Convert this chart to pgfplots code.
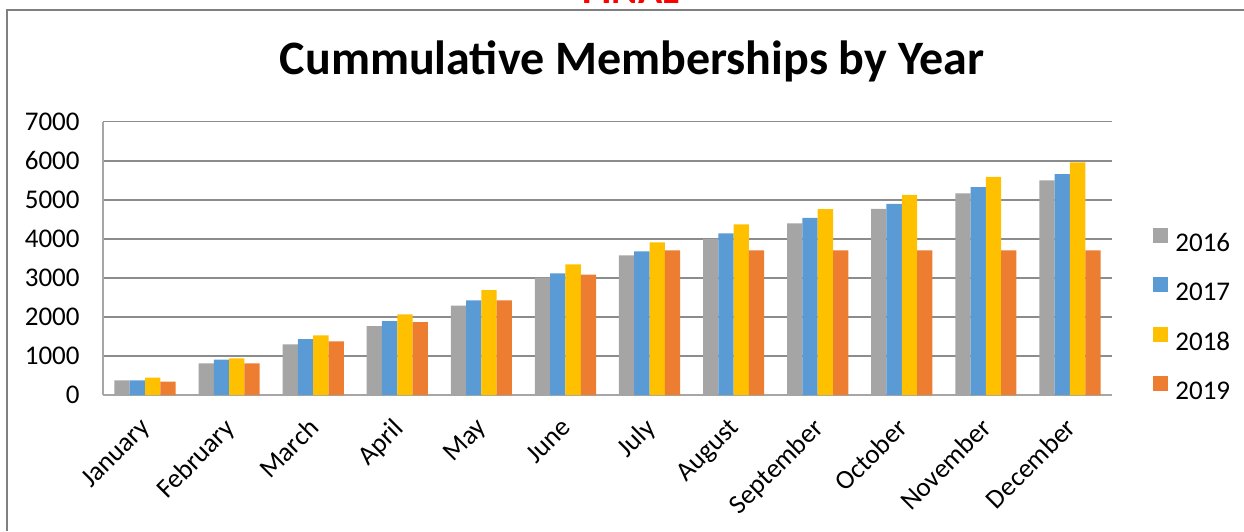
\documentclass[border=0pt]{standalone}
\usepackage{fontspec}
\setmainfont{Carlito}
\usepackage{pgfplots}
\pgfplotsset{compat=1.18}
\definecolor{c16}{HTML}{A5A5A5}
\definecolor{c17}{HTML}{5B9BD5}
\definecolor{c18}{HTML}{FFC000}
\definecolor{c19}{HTML}{ED7D31}
\begin{document}
\begin{tikzpicture}
% 1 px of the reference = 0.5pt
\path[use as bounding box] (0,0) rectangle (622pt,265.5pt);
\clip (0,0) rectangle (622pt,265.5pt);
\draw[black!50, line width=0.9pt] (3.5pt,0pt) -- (3.5pt,260.5pt) -- (622pt,260.5pt);
\node[anchor=base, text=red, font=\fontsize{20pt}{22pt}\selectfont\bfseries] at (315.5pt,263.5pt) {FINAL};
\node[font=\fontsize{24pt}{26pt}\selectfont\bfseries] at (316pt,235pt) {Cummulative Memberships by Year};
\begin{axis}[
    at={(51.5pt,68pt)}, anchor=south west,
    scale only axis,
    width=504.5pt, height=136.65pt,
    ybar=0pt, bar width=7.65pt,
    xmin=-0.5, xmax=11.5,
    ymin=0, ymax=7000,
    ytick={0,1000,...,7000},
    xtick=data,
    xticklabels={January,February,March,April,May,June,July,August,September,October,November,December},
    font=\fontsize{13.5pt}{15pt}\selectfont,
    /pgf/number format/assume math mode=true,
    /pgf/number format/1000 sep={},
    axis x line*=bottom, axis y line*=left,
    x axis line style={-, black!35, line width=0.75pt},
    y axis line style={-, black!35, line width=0.75pt},
    major tick length=0pt,
    ymajorgrids, major grid style={black!45, line width=0.75pt},
    yticklabel style={inner sep=0pt, xshift=-11.5pt},
    xticklabel style={inner sep=0pt, xshift=-3pt, yshift=-10.5pt, rotate=45, anchor=north east},
    legend image code/.code={\fill[#1] (0pt,0pt) rectangle (7.5pt,7.5pt); \path (11pt,0pt);},
    legend style={draw=none, fill=none, inner sep=0pt,
        at={(1.0406,0.614)}, anchor=north west,
        nodes={inner sep=0pt, text height=8.5pt, text depth=0pt},
        row sep=13pt, font=\fontsize{13.5pt}{15pt}\selectfont},
    legend cell align=left,
]
\addplot[fill=c16, draw=none] coordinates {(0,376) (1,811) (2,1297) (3,1766) (4,2287) (5,3004) (6,3575) (7,4002) (8,4395) (9,4770) (10,5163) (11,5496)};
\addplot[fill=c17, draw=none] coordinates {(0,376) (1,905) (2,1434) (3,1894) (4,2423) (5,3115) (6,3678) (7,4139) (8,4540) (9,4898) (10,5325) (11,5658)};
\addplot[fill=c18, draw=none] coordinates {(0,443) (1,939) (2,1528) (3,2065) (4,2688) (5,3345) (6,3908) (7,4369) (8,4762) (9,5128) (10,5589) (11,5957)};
\addplot[fill=c19, draw=none] coordinates {(0,341) (1,811) (2,1374) (3,1869) (4,2423) (5,3081) (6,3703) (7,3703) (8,3703) (9,3703) (10,3703) (11,3703)};
\legend{2016,2017,2018,2019}
\end{axis}
\end{tikzpicture}
\end{document}
